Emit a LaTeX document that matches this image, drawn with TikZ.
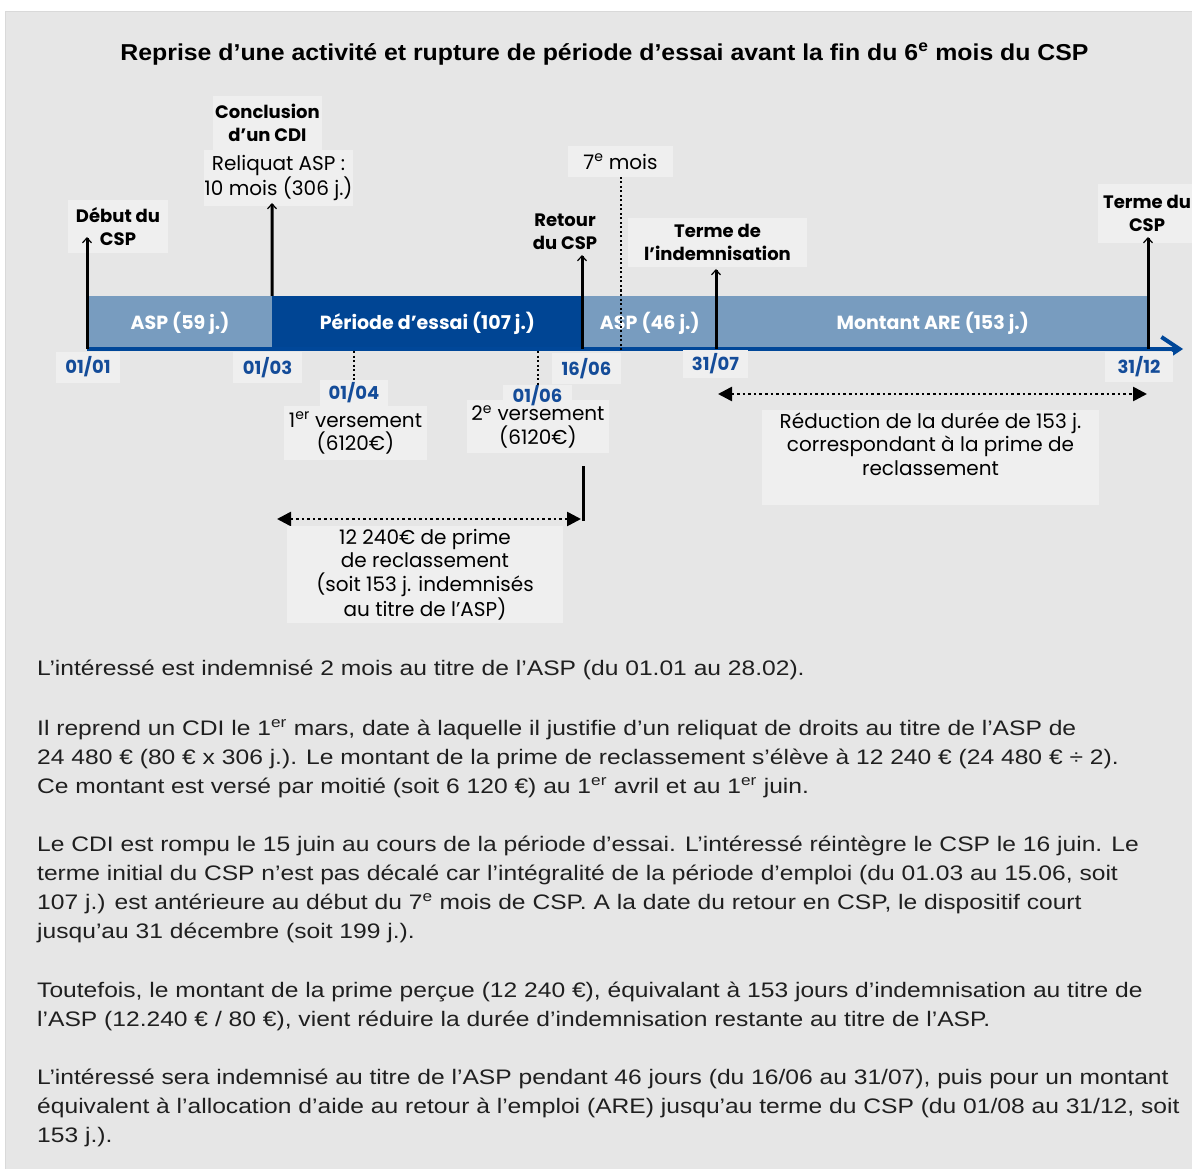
\documentclass[tikz,border=0pt]{standalone}
\usepackage{fontspec}
\setmainfont{Liberation Sans}
\newfontfamily\bodyfont{Liberation Sans}[FakeStretch=1.172]
\newfontfamily\titlefont{Liberation Sans}[FakeStretch=1.08]
\newfontfamily\lblfont{Poppins}
\usetikzlibrary{arrows.meta,positioning}
\definecolor{panelgray}{rgb}{0.902,0.902,0.902}
\definecolor{panelline}{rgb}{0.85,0.85,0.85}
\definecolor{boxgray}{rgb}{0.937,0.937,0.937}
\definecolor{darkblue}{rgb}{0,0.27,0.58}
\definecolor{lightblue}{rgb}{0.47,0.61,0.75}
\definecolor{axisblue}{rgb}{0,0.28,0.6}
\definecolor{dateblue}{rgb}{0.08,0.3,0.6}
\definecolor{textblack}{rgb}{0.12,0.12,0.12}

\begin{document}
\begin{tikzpicture}[x=1pt,y=-1pt,
  box/.style={fill=boxgray,inner sep=0pt,align=center,font=\lblfont\fontsize{20}{23.5}\selectfont},
  boldbox/.style={box,font=\lblfont\bfseries\fontsize{18}{23}\selectfont},
  datebox/.style={box,text=dateblue,font=\lblfont\bfseries\fontsize{18}{20}\selectfont},
  seg/.style={inner sep=0pt,minimum height=54,text=white,font=\lblfont\bfseries\fontsize{19}{20}\selectfont},
  evt/.style={line width=3pt,-{Straight Barb[length=5pt,width=9pt,line width=1.2pt]}},
  dotguide/.style={line width=2pt,dash pattern=on 2pt off 2.5pt},
  spanarrow/.style={line width=2.6pt,dash pattern=on 2.6pt off 3pt,
    {Triangle[length=14pt,width=14pt]}-{Triangle[length=14pt,width=14pt]}},
  para/.style={anchor=base west,align=left,inner sep=0pt,text=textblack,font=\bodyfont\fontsize{21}{29}\selectfont}]
\useasboundingbox (0,0) rectangle (1192,1169);
\fill[white] (0,0) rectangle (1192,1169);
\draw[fill=panelgray,draw=panelline] (5,11) rectangle (1200,1180);

\node[font=\titlefont\bfseries\fontsize{23}{26}\selectfont] (title) at (604.5,54)
  {Reprise d’une activité et rupture de période d’essai avant la fin du 6\textsuperscript{e} mois du CSP};

% frise
\node[seg,fill=lightblue,minimum width=184] (asp1) at (180,323) {ASP (59 j.)};
\node[seg,fill=darkblue,minimum width=310,right=0pt of asp1] (essai) {Période d’essai (107 j.)};
\node[seg,fill=lightblue,minimum width=134,right=0pt of essai] (asp2) {ASP (46 j.)};
\node[seg,fill=lightblue,minimum width=431,right=0pt of asp2] (are) {Montant ARE (153 j.)};

\foreach \nm/\x/\y in {a0101/87/349, a1606/582/349, a3107/716/349, a3112/1148/349, axend/1183/349,
    a0104/354/351, a0106/537.5/351, a7m/620.5/350,
    tdebut/87/237, tcdi/272/203, tretour/582/255, tterme/716/269, tcsp/1148/237,
    pl/277/519, pr/581/519, bt/583/466, bb/583/521, rl/718/394, rr/1147/394}
  \coordinate (\nm) at (\x,\y);

\draw[line width=4pt,axisblue,-{Straight Barb[length=18pt,width=24pt]}] (a0101) -- (axend);

% evenements
\node[boldbox,minimum width=100,minimum height=53] (debut) at (118,226.5) {Début du\\CSP};
\node[boldbox,minimum width=109,minimum height=54] (cdi) at (267.5,123) {Conclusion\\d’un CDI};
\node[box,minimum width=145,minimum height=56] (reliq) at (278.5,178) {Reliquat ASP :\\10 mois (306 j.)};
\node[boldbox,fill=none] (retour) at (565,232) {Retour\\du CSP};
\node[box,minimum width=105,minimum height=31] (sept) at (620.5,161.5) {7\textsuperscript{e} mois};
\node[boldbox,minimum width=179,minimum height=49] (terme) at (717.5,242.5) {Terme de\\l’indemnisation};
\node[boldbox,minimum width=98,minimum height=59] (termecsp) at (1147,213.5) {Terme du\\CSP};

\draw[evt] (a0101) -- (tdebut);
\draw[evt] (essai.north west) -- (tcdi);
\draw[evt] (a1606) -- (tretour);
\draw[evt] (a3107) -- (tterme);
\draw[evt] (a3112) -- (tcsp);
\draw[dotguide] (a7m) -- (sept.south);

% versements
\node[box,minimum width=143,minimum height=54] (v1) at (355.5,433) {1\textsuperscript{er} versement\\(6120€)};
\node[box,minimum width=142,minimum height=53] (v2) at (538,426.5) {2\textsuperscript{e} versement\\(6120€)};
\foreach \nm/\x/\y/\w/\h/\d in {d0101/88/367/64/31/{01/01}, d0103/267.5/367.5/69/31/{01/03},
    d1606/586.5/368.5/69/31/{16/06}, d3107/715.5/364/65/28/{31/07}, d3112/1139/367/68/30/{31/12},
    d0104/354/393/68/26/{01/04}, d0106/537.5/396/69/22/{01/06}}
  \node[datebox,minimum width=\w,minimum height=\h] (\nm) at (\x,\y) {\d};
\draw[dotguide] (a0104) -- (d0104.north);
\draw[dotguide] (a0106) -- (d0106.north);

% prime
\draw[line width=3pt] (bt) -- (bb);
\draw[spanarrow] (pl) -- (pr);
\node[box,minimum width=276,minimum height=97] (prime) at (425,574.5)
  {12 240€ de prime\\de reclassement\\(soit 153 j. indemnisés\\au titre de l’ASP)};
\draw[spanarrow] (rl) -- (rr);
\node[box,minimum width=337,minimum height=95,text depth=27pt] (reduc) at (930.5,457.5)
  {Réduction de la durée de 153 j.\\correspondant à la prime de\\reclassement};

% texte
\node[para] (p1) at (37,675) {L’intéressé est indemnisé 2 mois au titre de l’ASP (du 01.01 au 28.02).};
\node[para] (p2) at (37,793) {Il reprend un CDI le 1\textsuperscript{er} mars, date à laquelle il justifie d’un reliquat de droits au titre de l’ASP de\\
  24 480 € (80 € x 306 j.). Le montant de la prime de reclassement s’élève à 12 240 € (24 480 € ÷ 2).\\
  Ce montant est versé par moitié (soit 6 120 €) au 1\textsuperscript{er} avril et au 1\textsuperscript{er} juin.};
\node[para] (p3) at (37,938) {Le CDI est rompu le 15 juin au cours de la période d’essai. L’intéressé réintègre le CSP le 16 juin. Le\\
  terme initial du CSP n’est pas décalé car l’intégralité de la période d’emploi (du 01.03 au 15.06, soit\\
  107 j.) est antérieure au début du 7\textsuperscript{e} mois de CSP. A la date du retour en CSP, le dispositif court\\
  jusqu’au 31 décembre (soit 199 j.).};
\node[para] (p4) at (37,1026) {Toutefois, le montant de la prime perçue (12 240 €), équivalant à 153 jours d’indemnisation au titre de\\
  l’ASP (12.240 € / 80 €), vient réduire la durée d’indemnisation restante au titre de l’ASP.};
\node[para] (p5) at (37,1142) {L’intéressé sera indemnisé au titre de l’ASP pendant 46 jours (du 16/06 au 31/07), puis pour un montant\\
  équivalent à l’allocation d’aide au retour à l’emploi (ARE) jusqu’au terme du CSP (du 01/08 au 31/12, soit\\
  153 j.).};
\end{tikzpicture}
\end{document}
